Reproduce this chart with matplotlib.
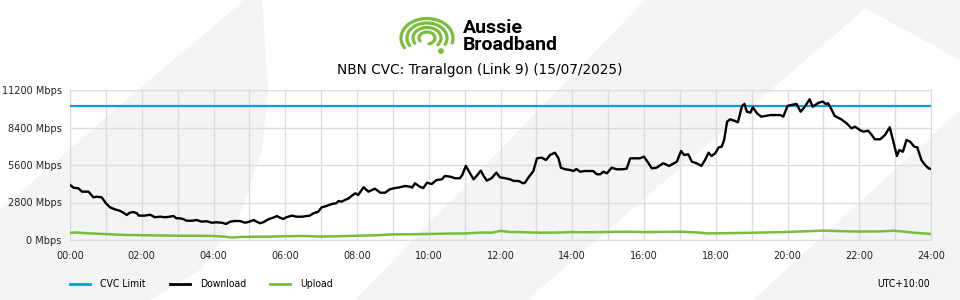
import numpy as np
import matplotlib.pyplot as plt
from matplotlib.patches import Polygon, Circle

# dados (minutos desde 00:00, Mbps)
cvc_limit = 10000

download_min = [0, 6, 14, 20, 31, 39, 45, 53, 60, 67, 75, 84, 89, 95, 100, 106, 112, 115, 125, 134,
                142, 151, 159, 167, 173, 178, 184, 190, 195, 204, 212, 220, 229, 237, 245, 254, 261, 268,
                276, 284, 293, 300, 307, 312, 318, 323, 332, 340, 346, 351, 357, 362, 371, 379, 388, 396,
                401, 407, 415, 421, 429, 438, 445, 449, 454, 460, 466, 471, 477, 482, 491, 499, 510, 519,
                527, 535, 544, 552, 560, 569, 572, 577, 585, 591, 597, 605, 613, 622, 627, 636, 644, 652,
                656, 662, 669, 675, 680, 687, 691, 697, 705, 713, 719, 728, 736, 742, 750, 758, 761, 767,
                775, 781, 789, 796, 803, 811, 817, 821, 828, 836, 842, 847, 853, 861, 870, 875, 881, 887,
                892, 898, 906, 914, 923, 931, 937, 945, 953, 960, 967, 973, 981, 992, 1002, 1015, 1022,
                1027, 1034, 1040, 1048, 1056, 1062, 1068, 1073, 1079, 1085, 1090, 1094, 1099, 1104, 1112,
                1117, 1124, 1128, 1132, 1138, 1142, 1149, 1156, 1163, 1171, 1179, 1188, 1193, 1200, 1206,
                1215, 1222, 1229, 1237, 1242, 1252, 1259, 1264, 1268, 1274, 1279, 1290, 1299, 1307, 1313,
                1321, 1327, 1335, 1341, 1346, 1355, 1363, 1371, 1377, 1383, 1387, 1393, 1399, 1405, 1412,
                1417, 1424, 1430, 1436, 1440]
download_mbps = [4110, 3900, 3860, 3610, 3610, 3190, 3230, 3190, 2740, 2440, 2290, 2170, 2040, 1870, 2040,
                 2090, 1990, 1820, 1820, 1890, 1700, 1740, 1700, 1740, 1790, 1620, 1620, 1550, 1440, 1440,
                 1490, 1370, 1400, 1290, 1320, 1290, 1200, 1370, 1420, 1420, 1290, 1370, 1490, 1370, 1250,
                 1320, 1550, 1670, 1790, 1670, 1570, 1700, 1820, 1740, 1740, 1790, 1820, 1990, 2110, 2440,
                 2540, 2690, 2740, 2910, 2860, 2990, 3110, 3290, 3490, 3360, 3940, 3610, 3830, 3530, 3530,
                 3790, 3880, 3940, 4030, 3980, 3910, 4230, 3980, 3880, 4280, 4180, 4480, 4530, 4780, 4730,
                 4610, 4610, 4850, 5530, 4980, 4530, 4780, 5180, 4850, 4430, 4610, 5030, 4680, 4610, 4530,
                 4410, 4410, 4230, 4280, 4680, 5150, 6100, 6150, 5970, 6350, 6520, 6100, 5400, 5280, 5230,
                 5150, 5300, 5100, 5150, 5150, 5150, 4910, 4910, 5100, 4980, 5400, 5280, 5280, 5320, 6100,
                 6100, 6100, 6220, 5770, 5350, 5400, 5730, 5530, 5850, 6650, 6350, 6400, 5850, 5730, 5530,
                 5970, 6520, 6270, 6470, 6920, 6970, 7470, 8830, 9010, 8890, 8790, 10010, 10160, 9580, 9510,
                 9910, 9460, 9210, 9260, 9330, 9330, 9330, 9210, 10010, 10080, 10160, 9580, 9950, 10510,
                 9950, 10250, 10330, 10160, 10210, 9710, 9260, 9010, 8710, 8340, 8460, 8210, 8090, 8160,
                 7840, 7520, 7520, 7840, 8420, 7340, 6270, 6720, 6590, 7470, 7340, 6970, 6920, 5970, 5600,
                 5350, 5300]

upload_min = [0, 10, 30, 60, 90, 120, 150, 180, 210, 240, 260, 270, 285, 300, 330, 360, 390, 420, 450,
              480, 510, 540, 570, 600, 630, 660, 690, 705, 720, 735, 750, 780, 810, 840, 870, 900, 930,
              960, 990, 1020, 1050, 1065, 1080, 1110, 1140, 1170, 1200, 1230, 1260, 1290, 1320, 1350,
              1380, 1410, 1440]
upload_mbps = [540, 560, 500, 440, 380, 360, 340, 320, 320, 300, 240, 180, 230, 240, 250, 280, 300, 260,
               280, 320, 350, 420, 430, 450, 480, 490, 560, 540, 680, 600, 590, 550, 550, 590, 580, 600,
               620, 590, 600, 620, 560, 490, 500, 520, 540, 570, 600, 650, 700, 660, 630, 640, 690, 550, 450]

y_ticks = [0, 2800, 5600, 8400, 11200]
x_labels = ['%02d:00' % h for h in range(0, 25, 2)]

titulo = 'NBN CVC: Traralgon (Link 9) (15/07/2025)'

azul = '#0a9bd9'
verde = '#78be3c'
cinza_fundo = '#f3f4f6'

fig = plt.figure(figsize=(9.6, 3), dpi=100)

# camada de fundo em pixels (y para baixo)
bg = fig.add_axes([0, 0, 1, 1], zorder=0)
bg.set_xlim(0, 960)
bg.set_ylim(300, 0)
bg.axis('off')

formas = [
    [(0, 300), (0, 210), (140, 88), (245, 0), (262, 0), (268, 90), (262, 150), (240, 215), (200, 270), (150, 300)],
    [(355, 300), (645, 0), (875, 0), (527, 300)],
    [(753, 300), (960, 110), (960, 300)],
    [(850, 0), (960, 0), (960, 60)],
]
for f in formas:
    bg.add_patch(Polygon(f, closed=True, facecolor=cinza_fundo, edgecolor='none'))

# logo (riscas verdes)
cx, cy = 427, 38
for r, a1 in [(26, 15), (20, 25), (14, 40), (8, 75)]:
    tt = np.linspace(np.radians(150), np.radians(360 + a1), 60)
    bg.plot(cx + r * np.cos(tt), cy + r * 0.75 * np.sin(tt), color=verde, lw=2.3,
            solid_capstyle='round')
bg.add_patch(Circle((441, 51), 2.2, color=verde))
bg.text(463, 33, 'Aussie', fontsize=14, fontweight='bold', family='Roboto', va='baseline', ha='left')
bg.text(463, 50, 'Broadband', fontsize=14, fontweight='bold', family='Roboto', va='baseline', ha='left')

bg.text(480, 70, titulo, fontsize=9.8, ha='center', va='center')

# legenda
leg = [('CVC Limit', azul, 70), ('Download', 'black', 170), ('Upload', verde, 270)]
for nome, cor, x0 in leg:
    bg.plot([x0, x0 + 20], [284, 284], color=cor, lw=2)
    bg.text(x0 + 30, 284, nome, fontsize=7.5, va='center', ha='left', fontstretch='condensed')
bg.text(930, 284, 'UTC+10:00', fontsize=7.5, va='center', ha='right', fontstretch='condensed')

# grafico principal
ax = fig.add_axes([70 / 960, 60 / 300, 861 / 960, 150 / 300], zorder=1)
ax.set_facecolor('none')

ax.axhline(cvc_limit, color=azul, lw=1.6, zorder=3)
ax.plot(np.array(download_min) / 60, download_mbps, color='black', lw=1.7, zorder=4)
ax.plot(np.array(upload_min) / 60, upload_mbps, color=verde, lw=1.8, zorder=3)

ax.set_xlim(0, 24)
ax.set_ylim(0, 11200)
ax.set_yticks(y_ticks)
ax.set_yticklabels(['%d Mbps' % v for v in y_ticks])
ax.set_xticks(range(0, 25, 2))
ax.set_xticklabels(x_labels)
ax.set_xticks(range(0, 25), minor=True)
ax.grid(True, which='both', color='#dcdcdc', lw=1)
ax.tick_params(which='both', length=0, labelsize=7, colors='#222222')
ax.tick_params(axis='y', pad=6)
ax.tick_params(axis='x', pad=8)
for s in ax.spines.values():
    s.set_color('#dcdcdc')
ax.set_axisbelow(True)

plt.savefig('out.png', dpi=100)
